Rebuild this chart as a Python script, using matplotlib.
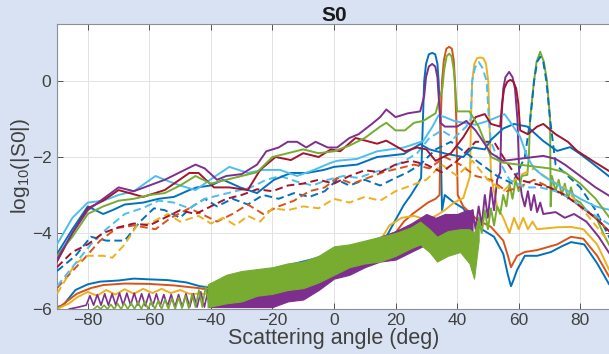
import numpy as np
import matplotlib
matplotlib.use("Agg")
import matplotlib.pyplot as plt

plt.rcParams['font.family'] = ['Liberation Sans', 'DejaVu Sans']

# MATLAB default colour order
C_BLUE = '#0072BD'
C_ORANGE = '#D95319'
C_YELLOW = '#EDB120'
C_PURPLE = '#7E2F8E'
C_GREEN = '#77AC30'
C_LBLUE = '#4DBEEE'
C_RED = '#A2142F'

# ---- upper solid curves ----
purple_u_x = [-90, -85, -80, -75, -70, -65, -60, -55, -50, -45, -42, -38, -35, -30, -25, -22, -18, -15, -12, -9, -6, -2, 1, 5, 8, 12, 15, 17, 20, 24, 28,
              29.3, 29.9, 30.8, 31.9, 32.9, 33.6, 34.0, 34.6, 36, 40, 43, 46, 51, 55, 60, 65, 68, 72, 75, 80, 85, 90]
purple_u_y = [-4.7, -4.0, -3.4, -3.1, -2.8, -2.9, -2.75, -2.6, -2.4, -2.2, -2.3, -2.6, -2.5, -2.45, -2.2, -1.85, -1.75, -1.6, -1.6, -1.75, -1.6, -1.75, -1.75, -1.5, -1.4, -1.15, -0.95, -0.75, -0.95, -0.85, -0.8,
              -0.4, 0.1, 0.38, 0.45, 0.38, 0.1, -0.4, -1.1, -1.2, -1.2, -1.05, -1.3, -1.9, -2.1, -2.05, -2.0, -1.97, -2.05, -2.2, -2.5, -2.8, -3.05]

green_u_x = [-90, -85, -80, -75, -70, -65, -60, -55, -50, -45, -40, -35, -30, -25, -20, -15, -10, -5, 0, 5, 10, 15, 17, 20, 23, 26, 29, 33,
             35.2, 35.8, 36.6, 37.4, 38.2, 38.9, 39.4, 40, 44, 47, 51, 55, 60, 65, 70, 75, 80, 85, 90]
green_u_y = [-4.6, -4.1, -3.5, -3.3, -3.15, -3.1, -3.0, -2.95, -2.75, -2.5, -2.7, -2.6, -2.5, -2.4, -2.0, -1.9, -1.8, -1.9, -1.85, -1.7, -1.5, -1.2, -1.1, -1.3, -1.3, -1.1, -1.05, -0.85,
             -0.2, 0.3, 0.65, 0.72, 0.65, 0.3, -0.2, -0.8, -0.8, -1.2, -2.0, -2.15, -2.2, -2.25, -2.3, -2.4, -2.7, -3.1, -3.65]

red_u_x = [-90, -85, -80, -75, -70, -62, -55, -47, -44, -39, -34, -28, -24, -19, -14, -10, -5, -1, 2, 7, 14, 17, 23, 27, 30, 33, 38, 42, 46, 49, 51, 54,
           54.6, 55.3, 56.3, 57.3, 58.3, 59.2, 59.9, 60.5, 63, 66, 68, 72, 76, 79, 84, 90]
red_u_y = [-4.75, -4.0, -3.35, -3.15, -2.87, -3.05, -2.87, -2.42, -2.42, -2.8, -2.8, -2.87, -2.34, -2.0, -2.08, -1.9, -2.0, -1.8, -1.85, -1.5, -1.65, -1.57, -1.85, -1.75, -1.8, -2.1, -1.9, -1.48, -0.95, -0.87, -1.13, -1.2,
           -0.6, -0.2, -0.02, 0.03, -0.02, -0.2, -0.6, -1.3, -1.4, -1.2, -1.13, -1.4, -1.6, -1.84, -2.1, -2.4]

lblue_u_x = [-90, -85, -80, -75, -70, -65, -58, -55, -50, -45, -39, -34, -28, -23, -17.5, -12, -6.5, -1.3, 1, 7.5, 14, 22.7, 29, 32, 34, 36, 39, 42, 46, 50, 53, 55.4, 57, 60.5, 62.8, 65, 68, 72, 76, 80, 85, 90]
lblue_u_y = [-4.3, -3.6, -3.2, -3.15, -3.0, -2.9, -2.5, -2.6, -2.75, -2.87, -2.53, -2.26, -2.42, -2.34, -2.34, -2.5, -2.34, -2.16, -2.1, -2.05, -1.85, -1.75, -1.58, -1.2, -0.9, -0.95, -1.05, -1.1, -1.15, -1.05, -0.95, -0.87, -1.05, -1.47, -2.0, -2.3, -2.5, -2.7, -2.9, -3.1, -3.3, -3.4]

blue_u_x = [-90, -85, -80, -75, -72, -68, -62, -57, -52, -47, -44.5, -40, -36, -30.5, -25, -19.5, -14, -8.8, -3.3, 0, 7.5, 14, 22.7, 28, 31, 36.7, 42, 45, 49, 51, 55, 58.5, 62.8, 68, 72.5, 76.7, 80, 84.5, 90]
blue_u_y = [-4.55, -3.9, -3.3, -3.5, -3.4, -3.25, -3.2, -3.1, -3.05, -2.87, -2.8, -2.75, -2.6, -2.8, -2.95, -2.6, -2.42, -2.42, -2.34, -2.26, -2.2, -2.0, -1.92, -1.66, -1.8, -1.92, -2.0, -1.75, -1.8, -1.55, -1.25, -1.13, -1.2, -1.58, -1.84, -1.74, -1.92, -2.2, -2.55]

# ---- dashed curves ----
blue_d_x = [-90, -84, -79, -74, -68, -63, -58.5, -55, -50, -46, -42, -38, -33, -28, -23, -18, -13, -8, -3, 1, 5, 10, 15, 20, 24, 28, 33, 38, 43, 48, 53, 58, 62,
            63.8, 65, 66, 67, 68, 69, 70.2, 72, 76, 80, 85, 90]
blue_d_y = [-5.0, -4.6, -4.1, -4.2, -4.2, -3.7, -3.35, -3.4, -3.6, -3.3, -3.1, -3.3, -3.1, -3.25, -3.0, -3.1, -2.95, -3.05, -2.9, -2.6, -2.75, -2.6, -2.75, -2.55, -2.4, -2.2, -1.8, -1.6, -1.9, -2.2, -2.5, -2.7, -2.0,
            -1.0, 0.0, 0.5, 0.64, 0.5, 0.0, -1.0, -2.2, -2.5, -2.8, -3.4, -4.2]

orange_d_x = [-90, -85, -81, -76, -70.5, -65, -58, -53, -47, -43, -38, -33, -28, -23, -18, -13, -8, -3, 1, 6, 11, 16, 21, 26, 31, 36, 41, 46, 51, 56, 60, 65, 70, 75, 80, 85, 90]
orange_d_y = [-5.45, -5.0, -4.66, -4.2, -3.87, -3.8, -3.9, -3.6, -3.35, -3.5, -3.7, -3.5, -3.25, -3.5, -3.3, -3.15, -2.9, -2.8, -2.55, -2.7, -2.55, -2.4, -2.3, -2.2, -2.3, -2.0, -2.2, -2.5, -2.6, -2.9, -2.8, -2.6, -2.8, -3.0, -3.3, -3.6, -4.0]

yellow_d_x = [-90, -84, -80, -75, -72, -68, -64, -60, -54, -50, -44, -40, -36, -32, -28, -24, -20, -15, -10, -5, 0, 5, 10, 15, 20, 25, 30, 35, 40, 45, 50, 55, 60, 65, 70, 75, 80, 85, 90]
yellow_d_y = [-5.6, -4.8, -4.6, -4.6, -4.65, -4.3, -3.8, -3.75, -3.5, -3.7, -3.55, -3.75, -3.6, -3.8, -3.55, -3.7, -3.35, -3.4, -3.3, -3.35, -3.1, -3.2, -3.05, -3.15, -2.9, -2.75, -2.6, -2.2, -2.5, -2.1, -2.6, -2.9, -2.5, -2.3, -2.6, -2.8, -3.3, -3.8, -4.3]

lblue_d_x = [-90, -85, -79, -74, -68, -62, -57, -52, -47, -42, -37, -32, -27, -22, -17.5, -12, -7, -2, 3, 8, 13, 18, 23, 27, 31, 35, 39, 43, 44.4,
             44.9, 45.8, 47, 48.2, 49.6, 50.3, 51, 53, 57, 62, 67, 72, 77, 82, 86, 90]
lblue_d_y = [-5.4, -4.9, -4.3, -3.9, -3.5, -3.34, -3.15, -3.2, -3.35, -3.1, -3.0, -2.9, -2.8, -2.6, -2.5, -2.65, -2.75, -2.6, -2.5, -2.55, -2.4, -2.3, -2.1, -1.9, -1.5, -1.3, -1.5, -1.2, -1.0,
             0.0, 0.35, 0.5, 0.35, 0.0, -1.0, -1.6, -2.0, -2.6, -2.8, -2.8, -2.9, -3.1, -3.4, -3.6, -3.8]

red_d_x = [-90, -85, -80, -75, -70, -65, -60, -55, -50, -45, -40, -35, -30, -25, -20, -15, -10, -5, 0, 5, 10, 15, 20, 25, 30, 35, 40, 46, 52, 55, 60, 65, 70, 75, 80, 85, 90]
red_d_y = [-4.9, -4.5, -4.3, -4.0, -3.85, -3.75, -3.8, -3.6, -3.4, -3.5, -3.3, -3.1, -3.0, -2.85, -2.9, -2.75, -2.7, -2.6, -2.7, -2.5, -2.35, -2.4, -2.2, -2.1, -2.2, -2.4, -2.1, -1.6, -1.6, -2.0, -2.6, -2.7, -2.8, -3.0, -3.3, -3.6, -4.0]

# ---- lower solid curves (with the sharp peaks) ----
blue_l_x = [-90, -88, -84, -80, -76, -70, -65, -60, -54, -48, -43.6, -39, -35, -30, -25, -20, -15, -10, -5, 0, 5, 11.7, 17, 19, 22.7, 25, 27, 28.3,
            28.9, 29.3, 29.9, 30.8, 31.9, 32.9, 33.6, 34.0, 34.5, 35.1, 36, 39, 42, 44, 48, 52, 55, 56.5, 57.5, 58.5, 59.5, 62, 66, 70.5, 74, 77, 81.3, 85.5, 89.4, 90]
blue_l_y = [-5.95, -5.9, -5.5, -5.35, -5.28, -5.25, -5.2, -5.22, -5.24, -5.3, -5.4, -5.45, -5.35, -5.2, -5.1, -4.95, -4.85, -4.75, -4.65, -4.55, -4.45, -4.25, -4.1, -3.8, -3.26, -3.0, -2.74, -2.55,
            -1.0, 0.0, 0.45, 0.7, 0.74, 0.7, 0.45, 0.0, -1.0, -3.4, -3.0, -3.2, -3.35, -3.6, -3.9, -4.1, -4.55, -5.1, -5.4, -5.2, -4.97, -4.6, -4.6, -4.5, -4.35, -4.24, -4.3, -4.8, -5.35, -5.4]

orange_l_x = [-90, -86, -83.6, -79, -75, -68, -60, -52, -44, -40, -35, -30, -20, -10, 0, 5, 11, 17, 19, 22.7, 25.5, 28, 30.5, 33, 34.3,
              34.7, 35.1, 35.7, 36.5, 37.4, 38.3, 38.9, 39.3, 39.7, 40.2, 42, 46.5, 51, 55, 56.5, 57.5, 59.5, 62, 66, 72.5, 77, 81, 85.5, 89.4, 90]
orange_l_y = [-6.0, -5.75, -5.6, -5.45, -5.37, -5.33, -5.34, -5.38, -5.45, -5.5, -5.4, -5.25, -5.05, -4.85, -4.6, -4.5, -4.4, -4.3, -4.1, -3.7, -3.5, -3.35, -3.2, -3.1, -3.0,
              -1.0, 0.0, 0.55, 0.85, 0.9, 0.85, 0.55, 0.0, -1.0, -3.0, -3.3, -3.65, -3.84, -4.2, -4.6, -4.9, -4.6, -4.5, -4.45, -4.3, -4.1, -4.15, -4.6, -5.15, -5.2]

yellow_l_x = [-90, -86, -83.6, -80, -77, -74, -71, -68, -65, -62, -59, -56, -53, -50, -47, -44, -40, -30, -20, -10, 0, 10, 15, 18, 22, 26, 30, 33, 36, 39, 42, 44.2,
              44.5, 44.9, 45.6, 46.5, 47.5, 48.5, 49.4, 50.1, 50.5, 51, 53, 55, 57, 58.5, 60, 61.5, 63, 64.5, 66, 72.5, 77, 81, 85.5, 89.4, 90]
yellow_l_y = [-6.0, -5.85, -5.7, -5.55, -5.65, -5.5, -5.62, -5.48, -5.6, -5.47, -5.58, -5.47, -5.58, -5.5, -5.6, -5.6, -5.6, -5.4, -5.15, -4.95, -4.75, -4.55, -4.2, -3.8, -3.6, -3.55, -3.65, -3.55, -3.4, -3.2, -3.08, -2.5,
              -1.0, 0.0, 0.45, 0.6, 0.62, 0.6, 0.45, 0.0, -1.0, -2.5, -3.3, -3.6, -4.0, -3.6, -3.9, -3.6, -3.9, -3.7, -3.9, -3.85, -3.84, -3.9, -4.3, -4.97, -5.0]

# purple lower curve: wiggles on the left, dense band in the middle, then the peak at 57
purple_left_x = [-86, -83, -80.5, -79.3, -78.1, -76.9, -75.7, -74.5, -73.3, -72.1, -70.9, -69.7, -68.5, -67.3, -66.1, -64.9, -63.7, -62.5,
                 -61.3, -60.1, -58.9, -57.7, -56.5, -55.3, -54.1, -52.9, -51.7, -50.5, -49.3, -48.1, -46.9, -45.7, -44.5, -43.3, -42.1, -40.9]
purple_left_y = [-6.0, -5.95, -5.9, -5.65, -5.9, -5.62, -5.9, -5.6, -5.9, -5.6, -5.9, -5.58, -5.9, -5.58, -5.9, -5.58, -5.9, -5.6,
                 -5.92, -5.6, -5.92, -5.6, -5.92, -5.62, -5.92, -5.62, -5.95, -5.62, -5.95, -5.6, -5.95, -5.6, -5.95, -5.55, -5.95, -5.5]

purple_band_x = [-41, -35, -30, -25, -20, -15, -10, -5, 0, 5, 10, 15, 20, 25, 30, 33, 36, 40, 43, 45]
purple_band_top = [-5.5, -5.35, -5.2, -5.05, -4.95, -4.85, -4.8, -4.65, -4.5, -4.35, -4.25, -4.1, -3.95, -3.75, -3.5, -3.6, -3.5, -3.5, -3.4, -3.4]
purple_band_bot = [-5.95, -5.95, -5.95, -5.95, -5.95, -5.8, -5.75, -5.5, -5.2, -5.1, -4.9, -4.75, -4.7, -4.5, -4.3, -4.6, -4.3, -4.1, -4.2, -4.4]

purple_l_x = [45, 46, 47, 48, 49, 50, 51, 52, 53, 54.0, 54.4, 55.0, 55.7, 56.9, 58.0, 58.8, 59.6, 60.2, 61, 62, 63, 64, 65, 66, 67, 68, 72, 75, 78, 82, 86, 90]
purple_l_y = [-3.4, -3.9, -3.3, -3.8, -3.0, -3.6, -2.8, -3.4, -2.6, -2.4, -1.0, -0.2, 0.1, 0.24, 0.1, -0.2, -1.0, -2.5, -3.0, -3.3, -2.9, -3.4, -3.0, -3.45, -3.2, -3.5, -3.45, -3.6, -3.5, -3.7, -4.1, -4.6]

# green lower curve: same structure, peak at 67
green_left_x = [-78, -76.9, -75.8, -74.7, -73.6, -72.5, -71.4, -70.3, -69.2, -68.1, -67.0, -65.9, -64.8, -63.7, -62.6, -61.5, -60.4, -59.3,
                -58.2, -57.1, -56.0, -54.9, -53.8, -52.7, -51.6, -50.5, -49.4, -48.3, -47.2, -46.1, -45.0, -43.9, -42.8, -41.7, -40.6]
green_left_y = [-6.0, -5.92, -6.0, -5.9, -6.0, -5.88, -6.0, -5.86, -6.0, -5.85, -6.0, -5.84, -6.0, -5.82, -6.0, -5.8, -6.0, -5.8,
                -6.0, -5.78, -6.0, -5.75, -6.0, -5.72, -6.0, -5.7, -5.98, -5.65, -5.98, -5.6, -5.95, -5.5, -5.95, -5.4, -5.9]

green_band_x = [-41, -35, -30, -25, -20, -15, -10, -5, 0, 5, 10, 15, 20, 25, 28, 31, 33.5, 37, 41, 44, 45.5, 47]
green_band_top = [-5.35, -5.1, -5.0, -4.95, -4.9, -4.8, -4.75, -4.6, -4.35, -4.3, -4.2, -4.1, -4.0, -3.85, -3.7, -3.9, -4.1, -3.95, -3.9, -3.9, -4.0, -3.6]
green_band_bot = [-5.95, -5.85, -5.8, -5.65, -5.6, -5.5, -5.45, -5.3, -5.1, -4.9, -4.8, -4.75, -4.6, -4.4, -4.3, -4.5, -4.75, -4.6, -4.5, -4.8, -5.2, -4.2]

green_l_x = [47, 48, 49, 50, 51, 52, 53, 54, 55, 56, 57, 58, 59, 60, 61, 62.8, 63.3, 63.7, 65.0, 65.8, 67.0, 68.2, 69.2, 70.2, 70.4, 70.8,
             72, 73, 74, 75, 76, 77, 78, 80, 82, 85.5, 88, 90]
green_l_y = [-3.6, -4.0, -3.4, -3.9, -3.35, -3.8, -3.3, -3.5, -3.0, -3.3, -2.7, -3.1, -2.6, -2.9, -2.5, -2.47, -2.0, -1.0, 0.0, 0.5, 0.77, 0.5, 0.0, -1.0, -3.3, -2.5,
             -2.9, -2.6, -3.0, -2.7, -3.1, -2.8, -3.1, -3.2, -3.4, -3.65, -4.1, -4.4]

x_ticks = [-80, -60, -40, -20, 0, 20, 40, 60, 80]
y_ticks = [-6, -4, -2, 0]

fig = plt.figure(figsize=(6.09, 3.54), dpi=100, facecolor='#d9e2f2')
ax = fig.add_axes([57 / 609, 1 - 309 / 354, 554 / 609, 285 / 354])
ax.set_facecolor('white')

lw = 1.4
dash = (4, 2.2)

# lower curves
ax.plot(blue_l_x, blue_l_y, color=C_BLUE, lw=lw, zorder=2)
ax.plot(orange_l_x, orange_l_y, color=C_ORANGE, lw=lw, zorder=2)
ax.plot(yellow_l_x, yellow_l_y, color=C_YELLOW, lw=lw, zorder=2)
ax.plot(purple_left_x, purple_left_y, color=C_PURPLE, lw=1.2, zorder=3)
ax.fill_between(purple_band_x, purple_band_bot, purple_band_top, color=C_PURPLE, lw=0.8, zorder=3)
ax.plot(purple_l_x, purple_l_y, color=C_PURPLE, lw=lw, zorder=3)
ax.plot(green_left_x, green_left_y, color=C_GREEN, lw=1.2, zorder=3)
ax.fill_between(green_band_x, green_band_bot, green_band_top, color=C_GREEN, lw=0.8, zorder=3)
ax.plot(green_l_x, green_l_y, color=C_GREEN, lw=lw, zorder=3)

# dashed curves
for xs, ys, c in [(blue_d_x, blue_d_y, C_BLUE), (orange_d_x, orange_d_y, C_ORANGE),
                  (yellow_d_x, yellow_d_y, C_YELLOW), (lblue_d_x, lblue_d_y, C_LBLUE),
                  (red_d_x, red_d_y, C_RED)]:
    ax.plot(xs, ys, color=c, lw=lw, dashes=dash, zorder=4)

# upper solid curves
for xs, ys, c in [(blue_u_x, blue_u_y, C_BLUE), (lblue_u_x, lblue_u_y, C_LBLUE),
                  (red_u_x, red_u_y, C_RED), (green_u_x, green_u_y, C_GREEN),
                  (purple_u_x, purple_u_y, C_PURPLE)]:
    ax.plot(xs, ys, color=c, lw=lw, zorder=5)

ax.set_xlim(-90, 90)
ax.set_ylim(-6, 1.5)
ax.set_xticks(x_ticks)
ax.set_yticks(y_ticks)
ax.grid(True, color='#e3e3e3', lw=0.7)
ax.set_axisbelow(True)
ax.tick_params(direction='in', length=4, width=0.7, color='#555555', labelcolor='#404040',
               labelsize=12.5, top=True, right=True)
ax.tick_params(axis='x', pad=3)
ax.tick_params(axis='y', pad=4)
for s in ax.spines.values():
    s.set_color('#8a8f99')
    s.set_linewidth(0.8)

ax.set_title('S0', fontsize=15, fontweight='bold', color='#1a1a1a', pad=2)
ax.set_xlabel('Scattering angle (deg)', fontsize=15.5, color='#404040', labelpad=0)
ax.set_ylabel(r'log$_{\mathregular{10}}$(|S0|)', fontsize=15, color='#404040', labelpad=0)

fig.savefig('out.png', dpi=100, facecolor=fig.get_facecolor())
